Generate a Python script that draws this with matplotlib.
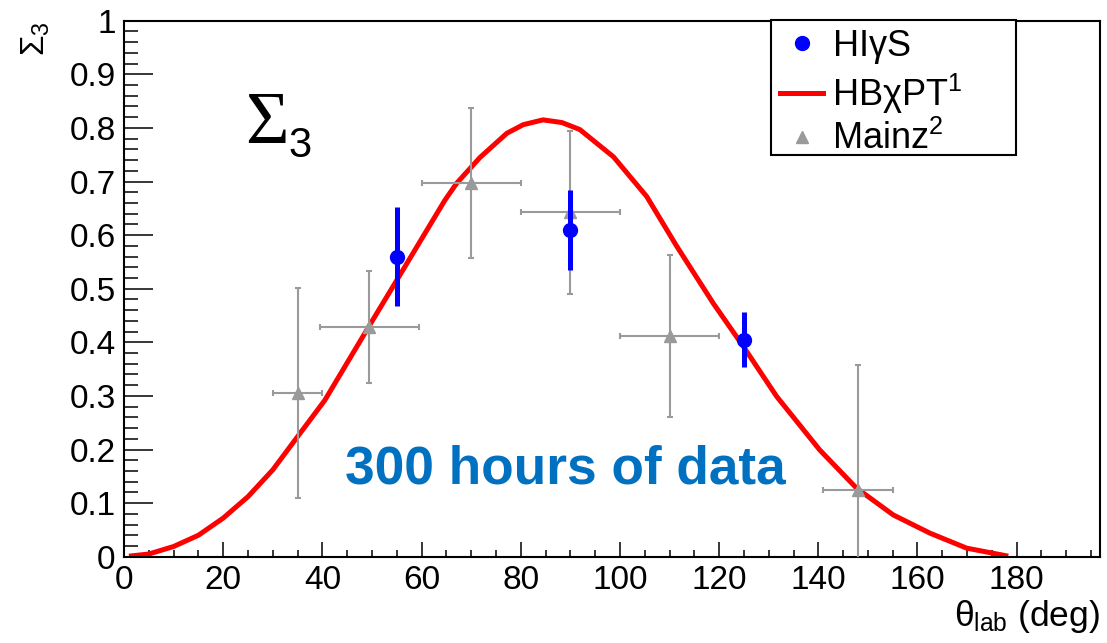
import matplotlib
matplotlib.use('Agg')
import matplotlib.pyplot as plt
from matplotlib.lines import Line2D
from matplotlib.patches import Rectangle
from matplotlib.ticker import MultipleLocator

# ---------------- data ----------------
theory_theta = [1, 5, 10, 15, 20, 25, 30, 35, 40.5, 49.6, 54.3, 58, 64.7,
                67.1, 71.8, 77.2, 80.5, 84.5, 88.3, 91.9, 98.7, 105.4, 111.4,
                118.8, 124.9, 131.6, 140.3, 147.7, 155.1, 162.5, 169.9, 178.3]
theory_sigma3 = [0.001, 0.005, 0.019, 0.040, 0.072, 0.112, 0.162, 0.224,
                 0.292, 0.433, 0.505, 0.562, 0.665, 0.697, 0.745, 0.790, 0.806,
                 0.815, 0.810, 0.797, 0.746, 0.672, 0.580, 0.473, 0.392, 0.299,
                 0.199, 0.128, 0.078, 0.044, 0.016, 0.001]

higs_theta = [55, 90, 125]
higs_sigma3 = [0.560, 0.610, 0.405]
higs_err = [0.093, 0.075, 0.052]

mainz_theta = [35, 49.5, 70, 90, 110, 148]
mainz_sigma3 = [0.306, 0.429, 0.697, 0.643, 0.412, 0.124]
mainz_yerr = [0.196, 0.104, 0.140, 0.152, 0.151, 0.234]
mainz_xerr = [5, 10, 10, 10, 10, 7]

xticks = [0, 20, 40, 60, 80, 100, 120, 140, 160, 180]
yticks = [0, 0.1, 0.2, 0.3, 0.4, 0.5, 0.6, 0.7, 0.8, 0.9, 1]
ytick_labels = ['0', '0.1', '0.2', '0.3', '0.4', '0.5', '0.6', '0.7', '0.8', '0.9', '1']

# ---------------- style ----------------
plt.rcParams['font.family'] = ['Liberation Sans', 'DejaVu Sans']
plt.rcParams['mathtext.fontset'] = 'custom'
plt.rcParams['mathtext.rm'] = 'Liberation Sans'
plt.rcParams['mathtext.it'] = 'Liberation Sans'
plt.rcParams['mathtext.bf'] = 'Liberation Sans:bold'

W, H = 1107, 643
fig = plt.figure(figsize=(W / 100, H / 100), dpi=100)
x0, x1, ytop, ybot = 124, 1100, 20.7, 556.7
ax = fig.add_axes([x0 / W, 1 - ybot / H, (x1 - x0) / W, (ybot - ytop) / H])
ax.set_xlim(0, 196.8)
ax.set_ylim(0, 1)

grey = '#9a9a9a'
ax.plot(theory_theta, theory_sigma3, color='#ff0000', lw=3.6, zorder=2,
        solid_capstyle='butt', solid_joinstyle='round')
ax.errorbar(mainz_theta, mainz_sigma3, yerr=mainz_yerr, xerr=mainz_xerr,
            fmt='^', color=grey, ms=9, elinewidth=1.5, capsize=2, capthick=1.5,
            zorder=3)
ax.errorbar(higs_theta, higs_sigma3, yerr=higs_err, fmt='o', color='#0000ff',
            ms=10, elinewidth=3.6, capsize=0, zorder=4)

# axes
for s in ax.spines.values():
    s.set_linewidth(1.5)
ax.set_xticks(xticks)
ax.set_yticks(yticks)
ax.set_yticklabels(ytick_labels)
ax.xaxis.set_minor_locator(MultipleLocator(5))
ax.yaxis.set_minor_locator(MultipleLocator(0.02))
ax.tick_params(axis='x', which='major', direction='in', length=10.8, width=1.1,
               labelsize=24, pad=6)
ax.tick_params(axis='x', which='minor', direction='in', length=5, width=1.1)
ax.tick_params(axis='y', which='major', direction='in', length=21, width=1.1,
               labelsize=24, pad=6)
ax.tick_params(axis='y', which='minor', direction='in', length=10, width=1.1)

ax.set_xlabel(r'$\theta_{\mathrm{lab}}$ (deg)', fontsize=25.5, loc='right')
ax.xaxis.set_label_coords(1.0, (ybot - 598) / (ybot - ytop))
ax.set_ylabel(r'$\Sigma_3$', fontsize=24, loc='top')
ax.yaxis.set_label_coords((52 - x0) / (x1 - x0), 1.0)

# annotations
ax.text(24.4, 0.771, 'Σ', fontsize=54, family='Liberation Serif',
        va='baseline', ha='left')
ax.text(33.1, 0.746, '3', fontsize=30, va='baseline', ha='left')
ax.text(44.6, 0.137, '300 hours of data', fontsize=38.3, fontweight='bold',
        color='#0070c0', va='baseline', ha='left')

# legend (frame drawn separately so its size matches the reference)
frame = Rectangle((771 / W, 1 - 155 / H), 245 / W, 135 / H,
                  transform=fig.transFigure, facecolor='white',
                  edgecolor='black', linewidth=1.5, zorder=5, clip_on=False)
ax.add_patch(frame)
handles = [Line2D([], [], ls='none', marker='o', color='#0000ff', ms=10),
           Line2D([], [], color='#ff0000', lw=3.6),
           Line2D([], [], ls='none', marker='^', color=grey, ms=9)]
labels = [r'HI$\gamma$S', r'HB$\chi$PT$^1$', r'Mainz$^2$']
leg = ax.legend(handles, labels, loc='upper left',
                bbox_to_anchor=(771 / W, 1 - 19 / H),
                bbox_transform=fig.transFigure, borderaxespad=0,
                fontsize=26, frameon=False, handlelength=1.2,
                handletextpad=0.24, labelspacing=0.15, borderpad=0.25)
leg.set_zorder(6)

fig.savefig('out.png', dpi=100)
